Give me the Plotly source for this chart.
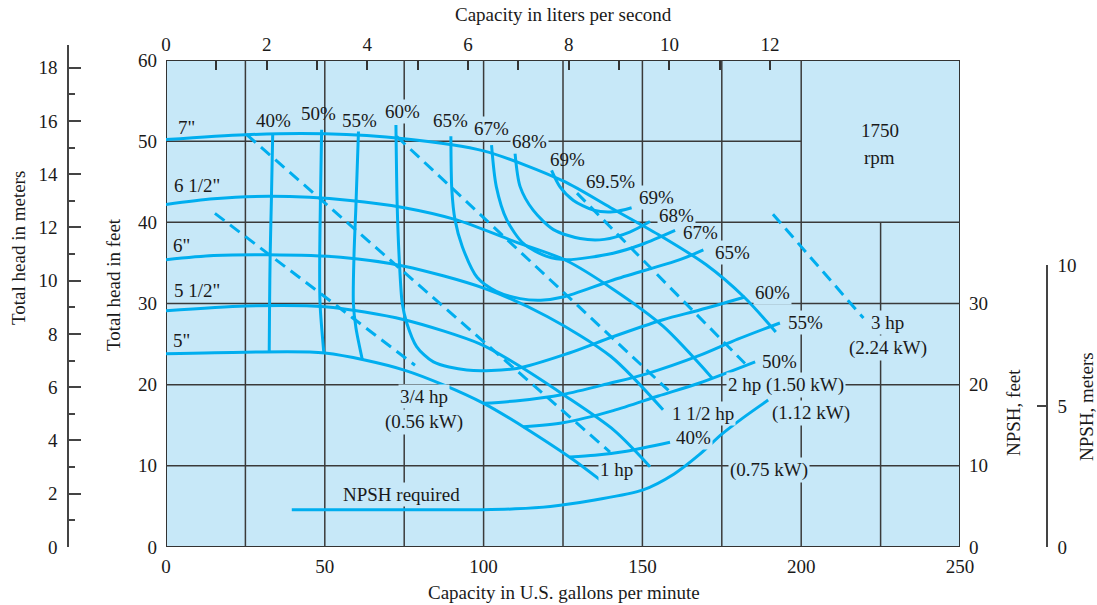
import plotly.graph_objects as go

# ---------------- data (gpm, ft) ----------------
h7_x = [0, 25, 50, 75, 100, 125, 140, 155, 170, 182, 192]
h7_y = [50.2, 50.8, 50.9, 50.3, 48.8, 45.1, 41.8, 38.5, 34.8, 30.8, 26.5]
h65_x = [0, 15, 33, 58, 75, 91.5, 110, 126, 141, 156.5, 172]
h65_y = [42.2, 42.9, 43.2, 42.7, 41.8, 40.3, 37.6, 35.3, 31.7, 27.2, 20.8]
h6_x = [0, 15, 32, 55, 75, 100, 120, 140, 156.5]
h6_y = [35.4, 35.9, 36.0, 35.7, 34.6, 31.9, 28.4, 23.5, 16.9]
h55_x = [0, 25, 50, 75, 99, 110, 125, 141, 152.4]
h55_y = [29.1, 29.7, 29.6, 28.0, 25.0, 22.6, 18.8, 14.4, 9.9]
h5_x = [0, 25, 50, 75, 100, 127, 136.6]
h5_y = [23.8, 24.0, 23.9, 21.8, 17.7, 11.1, 8.3]

e40l_x = [33.6, 33.2, 32.8, 32.6, 32.5]
e40l_y = [50.9, 43.0, 36.0, 29.5, 24.0]
e50_x = [49.0, 48.6, 48.4, 48.5, 49.7]
e50_y = [51.4, 42.0, 36.0, 30.0, 23.9]
e55_x = [60.6, 59.8, 59.2, 59.0, 59.8, 61.8]
e55_y = [51.2, 42.0, 36.0, 30.0, 27.0, 23.1]
e60_x = [72.4, 72.8, 73.5, 74.4, 75.8, 78.9, 84.2, 94.7, 110.4, 127, 140.7, 156.5, 168, 182.3]
e60_y = [52.0, 42.0, 35.0, 30.0, 27.6, 24.7, 22.8, 21.8, 22.0, 23.9, 25.9, 28.0, 29.2, 30.8]
e65_x = [89.7, 90.0, 91.0, 93.3, 98.0, 104, 111.5, 118, 125, 140.8, 161.8, 169.2]
e65_y = [50.6, 44.0, 40.3, 37.0, 33.2, 31.5, 30.6, 30.4, 30.8, 32.9, 35.4, 36.6]
e67_x = [102.5, 104, 107.3, 112.5, 119.9, 126.2, 140.8, 150, 160.3]
e67_y = [49.5, 44.4, 40.3, 37.4, 35.8, 35.4, 36.2, 37.3, 39.0]
e68_x = [109.9, 111.5, 115.6, 122, 130.4, 138, 146, 152.4]
e68_y = [48.5, 44.4, 41.5, 39.1, 38.0, 37.9, 38.8, 40.1]
e69_x = [121.4, 124, 128.3, 134.6, 140.8, 146.6]
e69_y = [46.4, 44.4, 42.7, 41.5, 41.3, 41.8]
e55r_x = [99.9, 110, 125, 140, 151, 168, 180, 193.3]
e55r_y = [17.7, 18.0, 18.8, 20.2, 21.3, 23.6, 25.6, 27.6]
e50r_x = [112.5, 125, 140.8, 155, 168, 185.5]
e50r_y = [14.8, 15.3, 16.8, 18.6, 20.2, 22.8]
e40r_x = [127.2, 135, 145, 158.7]
e40r_y = [11.1, 11.3, 11.8, 12.9]

npsh_x = [39.6, 60, 80, 100, 110, 121, 135, 150, 160, 168, 175, 182, 189.6]
npsh_y = [4.6, 4.6, 4.6, 4.6, 4.7, 5.0, 5.8, 7.0, 9.0, 11.4, 13.9, 16.0, 18.1]

p34_x, p34_y = [15.4, 78.4], [41.1, 22.4]
p1_x, p1_y = [25.4, 139.8], [50.8, 11.7]
p15_x, p15_y = [72.6, 158.2], [50.6, 19.3]
p2_x, p2_y = [129.4, 182.3], [43.6, 22.6]
p3_x, p3_y = [191.1, 219.6], [41.0, 28.2]

x_ticks = [0, 50, 100, 150, 200, 250]
y_ticks = [0, 10, 20, 30, 40, 50, 60]
ls_ticks = list(range(0, 13))
m_ticks = list(range(0, 19, 2))
npsh_ft_ticks = [0, 10, 20, 30]
npsh_m_ticks = [0, 5, 10]
GPM_PER_LS = 15.85

# (text, x gpm, y ft, with background)
labels = [
    ('7"', 6.3, 51.7, False), ('6 1/2"', 9.8, 44.6, False), ('6"', 5.0, 37.1, False),
    ('5 1/2"', 9.8, 31.6, False), ('5"', 5.0, 25.5, False),
    ('40%', 33.7, 52.6, False), ('50%', 47.9, 53.4, False), ('55%', 60.8, 52.6, False),
    ('60%', 74.6, 53.6, True), ('65%', 89.7, 52.6, False), ('67%', 102.6, 51.5, True),
    ('68%', 114.6, 49.9, True), ('69%', 126.3, 47.7, False), ('69.5%', 140.1, 45.0, False),
    ('69%', 154.3, 43.1, True), ('68%', 160.8, 40.9, True), ('67%', 168.3, 38.7, False),
    ('65%', 178.3, 36.3, True), ('60%', 191.1, 31.4, True), ('55%', 201.2, 27.6, True),
    ('50%', 193.2, 22.8, True), ('40%', 166.1, 13.5, True),
    ('1750', 224.8, 51.3, False), ('rpm', 224.8, 48.0, False),
    ('3/4 hp', 81.2, 18.5, True), ('(0.56 kW)', 81.2, 15.4, True), ('NPSH required', 74.3, 6.5, True),
    ('3 hp', 227.3, 27.6, True), ('(2.24 kW)', 227.3, 24.5, True),
    ('2 hp (1.50 kW)', 195.3, 20.0, True),
    ('1 1/2 hp', 169.1, 16.4, True), ('(1.12 kW)', 203.1, 16.5, True),
    ('1 hp', 142.0, 9.5, True), ('(0.75 kW)', 189.8, 9.5, True),
]

# ---------------- styling ----------------
BLUE_BG = '#C7E8F8'
CYAN = '#00AEEF'
GRID = '#3a3a3a'
TXT = '#1a1a1a'
FONT = 'Liberation Serif'
FS = 19

W, H = 1097, 605
L_PX, R_PX, T_PX, B_PX = 166, 960, 60, 547
TOP_EXT = 45
fig = go.Figure()

solid = [(h7_x, h7_y), (h65_x, h65_y), (h6_x, h6_y), (h55_x, h55_y), (h5_x, h5_y),
         (e40l_x, e40l_y), (e50_x, e50_y), (e55_x, e55_y), (e60_x, e60_y), (e65_x, e65_y),
         (e67_x, e67_y), (e68_x, e68_y), (e69_x, e69_y), (e55r_x, e55r_y), (e50r_x, e50r_y),
         (e40r_x, e40r_y), (npsh_x, npsh_y)]
for xs, ys in solid:
    fig.add_trace(go.Scatter(x=xs, y=ys, mode='lines', line=dict(color=CYAN, width=3, shape='spline', smoothing=0.8),
                             hoverinfo='skip', showlegend=False))
for xs, ys in [(p34_x, p34_y), (p1_x, p1_y), (p15_x, p15_y), (p2_x, p2_y), (p3_x, p3_y)]:
    fig.add_trace(go.Scatter(x=xs, y=ys, mode='lines', line=dict(color=CYAN, width=3, dash='12px,7px'),
                             hoverinfo='skip', showlegend=False))

# helper traces to activate extra axes
for ax in [dict(yaxis='y3'), dict(yaxis='y4'), dict(yaxis='y5'), dict(xaxis='x2')]:
    fig.add_trace(go.Scatter(x=[0], y=[0], mode='markers', marker=dict(opacity=0), hoverinfo='skip',
                             showlegend=False, **ax))

plot_h = B_PX - TOP_EXT
ydom_top = (B_PX - T_PX) / plot_h
xdom = [L_PX / W, R_PX / W]

shapes = [dict(type='rect', xref='x', yref='y', x0=0, x1=250, y0=0, y1=60, fillcolor=BLUE_BG,
               line=dict(color='#333333', width=2), layer='below')]
for gx in range(25, 225, 25):
    shapes.append(dict(type='line', xref='x', yref='y', x0=gx, x1=gx, y0=0, y1=60,
                       line=dict(color=GRID, width=1.5), layer='below'))
shapes.append(dict(type='line', xref='x', yref='y', x0=225, x1=225, y0=0, y1=40,
                   line=dict(color=GRID, width=1.5), layer='below'))
for gy in [10, 20, 30, 40]:
    shapes.append(dict(type='line', xref='x', yref='y', x0=0, x1=250, y0=gy, y1=gy,
                       line=dict(color=GRID, width=1.5), layer='below'))
shapes.append(dict(type='line', xref='x', yref='y', x0=0, x1=200, y0=50, y1=50,
                   line=dict(color=GRID, width=1.5), layer='below'))

annotations = []
for t, x, y, bg in labels:
    a = dict(text=t, x=x, y=y, xref='x', yref='y', showarrow=False,
             font=dict(family=FONT, size=FS, color=TXT), borderpad=1)
    if bg:
        a['bgcolor'] = BLUE_BG
    annotations.append(a)

def title_ann(text, px, py, angle=0):
    return dict(text=text, x=px / W, y=(B_PX - py) / plot_h, xref='paper', yref='paper', showarrow=False,
                textangle=angle, font=dict(family=FONT, size=FS, color=TXT), xanchor='center', yanchor='middle')

annotations += [
    title_ann('Capacity in liters per second', 563, 14),
    title_ann('Capacity in U.S. gallons per minute', 564, 592),
    title_ann('Total head in meters', 18, 248, -90),
    title_ann('Total head in feet', 113, 285, -90),
    title_ann('NPSH, feet', 1013, 413, -90),
    title_ann('NPSH, meters', 1086, 407, -90),
]

tickfont = dict(family=FONT, size=FS, color=TXT)
fig.update_layout(
    width=W, height=H, margin=dict(l=0, r=0, t=TOP_EXT, b=H - B_PX, autoexpand=False),
    paper_bgcolor='white', plot_bgcolor='rgba(0,0,0,0)',
    showlegend=False, shapes=shapes, annotations=annotations,
    xaxis=dict(domain=xdom, range=[0, 250], tickvals=x_ticks, showgrid=False, zeroline=False,
               showline=False, ticks='', tickfont=tickfont, ticklabelstandoff=6, anchor='y', automargin=False),
    xaxis2=dict(overlaying='x', side='top', anchor='y', range=[0, 250 / GPM_PER_LS], tickvals=ls_ticks,
                ticktext=[str(v) if v % 2 == 0 else '' for v in ls_ticks], ticks='inside', ticklen=10,
                tickwidth=1.5, tickcolor='#333333', showgrid=False, zeroline=False, showline=False,
                tickfont=tickfont, ticklabelstandoff=4, automargin=False),
    yaxis=dict(domain=[0, ydom_top], range=[0, 60], tickvals=y_ticks, showgrid=False, zeroline=False,
               showline=False, ticks='', tickfont=tickfont, ticklabelstandoff=8, anchor='x', automargin=False),
    yaxis3=dict(domain=[0, 1], range=[0, 60 * 0.3048 / ydom_top], anchor='free', position=68 / W, side='left',
                tickvals=m_ticks, ticks='inside', ticklen=12, tickwidth=1.5, tickcolor='#444444',
                minor=dict(dtick=1, ticks='inside', ticklen=6, tickwidth=1.5, tickcolor='#444444'),
                showline=True, linecolor='#444444', linewidth=1.5, showgrid=False, zeroline=False,
                tickfont=tickfont, ticklabelstandoff=6, automargin=False),
    yaxis4=dict(overlaying='y', side='right', anchor='x', range=[0, 60], tickvals=npsh_ft_ticks,
                ticks='', showgrid=False, zeroline=False, showline=False, tickfont=tickfont,
                ticklabelstandoff=8, automargin=False),
    yaxis5=dict(domain=[0, (B_PX - 265) / plot_h], range=[0, 10], anchor='free', position=1047 / W, side='right',
                tickvals=npsh_m_ticks, ticks='inside', ticklen=9, tickwidth=1.5, tickcolor='#444444',
                showline=True, linecolor='#444444', linewidth=1.5, showgrid=False, zeroline=False,
                tickfont=tickfont, ticklabelstandoff=6, automargin=False),
)

fig.write_html('out.html', config={'displayModeBar': False},
               post_script="document.body.style.margin='0';document.body.style.overflow='hidden';")
